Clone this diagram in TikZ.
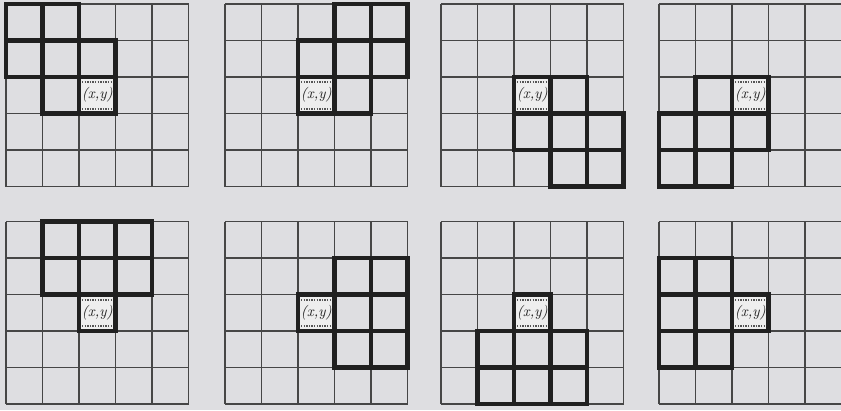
\documentclass[tikz,border=0pt]{standalone}
\usepackage{xcolor}
\definecolor{bgc}{RGB}{222,222,225}
\definecolor{thinc}{RGB}{70,70,70}
\definecolor{heavyc}{RGB}{32,32,32}
\definecolor{cellc}{RGB}{238,238,238}
\definecolor{stripc}{RGB}{85,85,85}
\tikzset{
 thinline/.style={draw=thinc,line width=1.5pt},
 heavycell/.style={draw=heavyc,line width=4.3pt},
 centercell/.style={fill=cellc},
 strip/.style={draw=stripc,line width=2pt,dash pattern=on 1.3pt off 1.3pt},
 poslabel/.style={inner sep=0pt,text=heavyc}
}
\newcommand\cs{36.5}
\newcommand\mygrid[4]{%
\begin{scope}[shift={(#1,#2)}]
 \fill[centercell] (2*\cs,2*\cs) rectangle (3*\cs,3*\cs);
 \foreach \i in {0,...,5}{
  \draw[thinline] (\i*\cs,0) -- (\i*\cs,5*\cs);
  \draw[thinline] (0,\i*\cs) -- (5*\cs,\i*\cs);
 }
 \foreach \c/\r in {#3} \draw[heavycell] (\c*\cs,\r*\cs) rectangle ++(\cs,\cs);
 \draw[heavycell] (2*\cs,2*\cs) rectangle ++(\cs,\cs);
 \draw[strip] (2*\cs+3,2*\cs+5) -- (3*\cs-3,2*\cs+5);
 \draw[strip] (2*\cs+3,3*\cs-5) -- (3*\cs-3,3*\cs-5);
 \node[poslabel] (#4) at (2.5*\cs,2.5*\cs) {\resizebox{31pt}{!}{\itshape (x,y)}};
\end{scope}}
\begin{document}
\begin{tikzpicture}[x=1pt,y=-1pt]
\fill[bgc] (0,0) rectangle (841,410);
\useasboundingbox (0,0) rectangle (841,410);
\mygrid{6}{4}{0/0,1/0,0/1,1/1,2/1,1/2}{g1}
\mygrid{225}{4}{3/0,4/0,2/1,3/1,4/1,3/2}{g2}
\mygrid{441}{4}{3/2,2/3,3/3,4/3,3/4,4/4}{g3}
\mygrid{659}{4}{1/2,0/3,1/3,2/3,0/4,1/4}{g4}
\mygrid{6}{221.5}{1/0,2/0,3/0,1/1,2/1,3/1}{g5}
\mygrid{225}{221.5}{3/1,4/1,3/2,4/2,3/3,4/3}{g6}
\mygrid{441}{221.5}{1/3,2/3,3/3,1/4,2/4,3/4}{g7}
\mygrid{659}{221.5}{0/1,1/1,0/2,1/2,0/3,1/3}{g8}
\end{tikzpicture}
\end{document}
